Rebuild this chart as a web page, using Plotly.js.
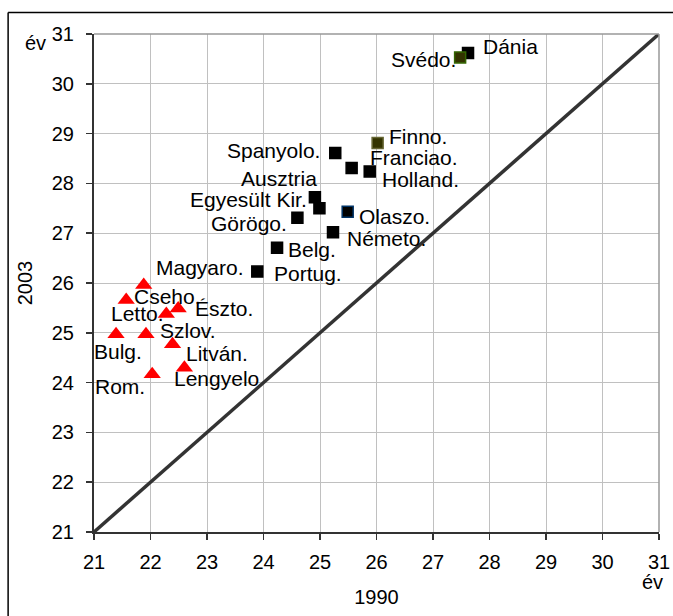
<!DOCTYPE html>
<html>
<head>
<meta charset="utf-8">
<script src="https://cdn.plot.ly/plotly-3.0.1.min.js"></script>
<style>
  html, body { margin: 0; padding: 0; background: #fff; }
  #chart { width: 673px; height: 616px; }
</style>
</head>
<body>
<div id="chart"></div>
<script>
// Eastern (red triangles)
const eastNames = ["Magyaro.", "Cseho.", "Észto.", "Letto.", "Bulg.", "Szlov.", "Litván.", "Lengyelo", "Rom."];
const east1990  = [21.88, 21.57, 22.49, 22.28, 21.39, 21.92, 22.39, 22.60, 22.03];
const east2003  = [25.96, 25.66, 25.49, 25.38, 24.97, 24.97, 24.77, 24.30, 24.17];

// Western (squares)
const westNames = ["Dánia", "Svédo.", "Finno.", "Spanyolo.", "Franciao.", "Holland.", "Egyesült Kir.", "Ausztria", "Olaszo.", "Görögo.", "Németo.", "Belg.", "Portug."];
const west1990  = [27.62, 27.48, 26.02, 25.27, 25.56, 25.88, 24.91, 24.99, 25.49, 24.60, 25.23, 24.24, 23.89];
const west2003  = [30.62, 30.53, 28.81, 28.61, 28.31, 28.24, 27.72, 27.50, 27.43, 27.31, 27.02, 26.71, 26.23];

// Reference line (equal ages)
const diag = [21, 31];

// Axis ticks
const tickVals = [21, 22, 23, 24, 25, 26, 27, 28, 29, 30, 31];

// Styles (not data)
const westFill = ["#000000", "#333300", "#333300", "#000000", "#000000", "#000000", "#000000", "#000000", "#000000", "#000000", "#000000", "#000000", "#000000"];
const westEdge = ["#000000", "#336600", "#666633", "#000000", "#000000", "#000000", "#000000", "#000000", "#003366", "#000000", "#000000", "#000000", "#000000"];
// label offsets in pixels (dx right, dy down)
const eastOff = [[56,-17],[41,-3],[46,0],[-29,0],[2,17],[42,-4],[44,9],[32,11],[-32,12]];
const westOff = [[42,-6],[-37,2],[40,-7],[-62,-3],[62,-10],[51,8],[-66,2],[-40,-30],[47,5],[-48,6],[53,6],[35,2],[51,2]];

const FONT = "Liberation Sans, Arial, sans-serif";

const traces = [
  {
    x: diag, y: diag, mode: "lines", type: "scatter",
    line: { color: "#333333", width: 3.5 }, hoverinfo: "skip", cliponaxis: false
  },
  {
    x: west1990, y: west2003, mode: "markers", type: "scatter",
    marker: { symbol: "square", size: 11, color: westFill, line: { color: westEdge, width: 1.5 } },
    cliponaxis: false
  },
  {
    x: east1990, y: east2003, mode: "markers", type: "scatter",
    marker: { symbol: "triangle-up", size: 15, color: "#ff0000", line: { width: 0 } },
    cliponaxis: false
  }
];

const annotations = [];
function addLabels(names, xs, ys, offs) {
  names.forEach((n, i) => {
    annotations.push({
      x: xs[i], y: ys[i], xref: "x", yref: "y", text: n, showarrow: false,
      xanchor: "center", yanchor: "middle",
      xshift: offs[i][0], yshift: -offs[i][1],
      font: { family: FONT, size: 21, color: "#000" }
    });
  });
}
addLabels(eastNames, east1990, east2003, eastOff);
addLabels(westNames, west1990, west2003, westOff);

// unit labels
annotations.push({ xref: "paper", yref: "paper", x: -0.104, y: 0.981, xanchor: "center", yanchor: "middle",
  text: "év", showarrow: false, font: { family: FONT, size: 20, color: "#000" } });
annotations.push({ xref: "paper", yref: "paper", x: 0.988, y: -0.101, xanchor: "center", yanchor: "middle",
  text: "év", showarrow: false, font: { family: FONT, size: 20, color: "#000" } });

const shapes = [
  // gray top & right plot border
  { type: "line", xref: "paper", yref: "paper", x0: 0, x1: 1, y0: 1, y1: 1, line: { color: "#999999", width: 1.5 } },
  { type: "line", xref: "paper", yref: "paper", x0: 1, x1: 1, y0: 0, y1: 1, line: { color: "#999999", width: 1.5 } },
  // outer frame (left & top)
  { type: "line", xref: "paper", yref: "paper", x0: -0.152, x1: -0.152, y0: 1.043, y1: -0.2, line: { color: "#000", width: 1.5 } },
  { type: "line", xref: "paper", yref: "paper", x0: -0.152, x1: 1.1, y0: 1.043, y1: 1.043, line: { color: "#000", width: 1.5 } }
];

const axisCommon = {
  range: [21, 31], tickvals: tickVals, ticktext: tickVals.map(String),
  showgrid: true, gridcolor: "#c0c0c0", gridwidth: 1,
  showline: true, linecolor: "#333333", linewidth: 2,
  ticks: "outside", ticklen: 6, tickcolor: "#333333", tickwidth: 1.5,
  zeroline: false, tickfont: { family: FONT, size: 20, color: "#000" },
  fixedrange: true
};

const layout = {
  width: 673, height: 616,
  margin: { l: 94, r: 14, t: 34, b: 84 },
  paper_bgcolor: "#ffffff", plot_bgcolor: "#ffffff",
  showlegend: false,
  xaxis: Object.assign({}, axisCommon, {
    ticklabelstandoff: 5,
    title: { text: "1990", font: { family: FONT, size: 20, color: "#000" }, standoff: 18 }
  }),
  yaxis: Object.assign({}, axisCommon, {
    ticklabelstandoff: 8,
    title: { text: "2003", font: { family: FONT, size: 20, color: "#000" }, standoff: 14 }
  }),
  annotations: annotations,
  shapes: shapes
};

Plotly.newPlot("chart", traces, layout, { displayModeBar: false, staticPlot: true });
</script>
</body>
</html>
